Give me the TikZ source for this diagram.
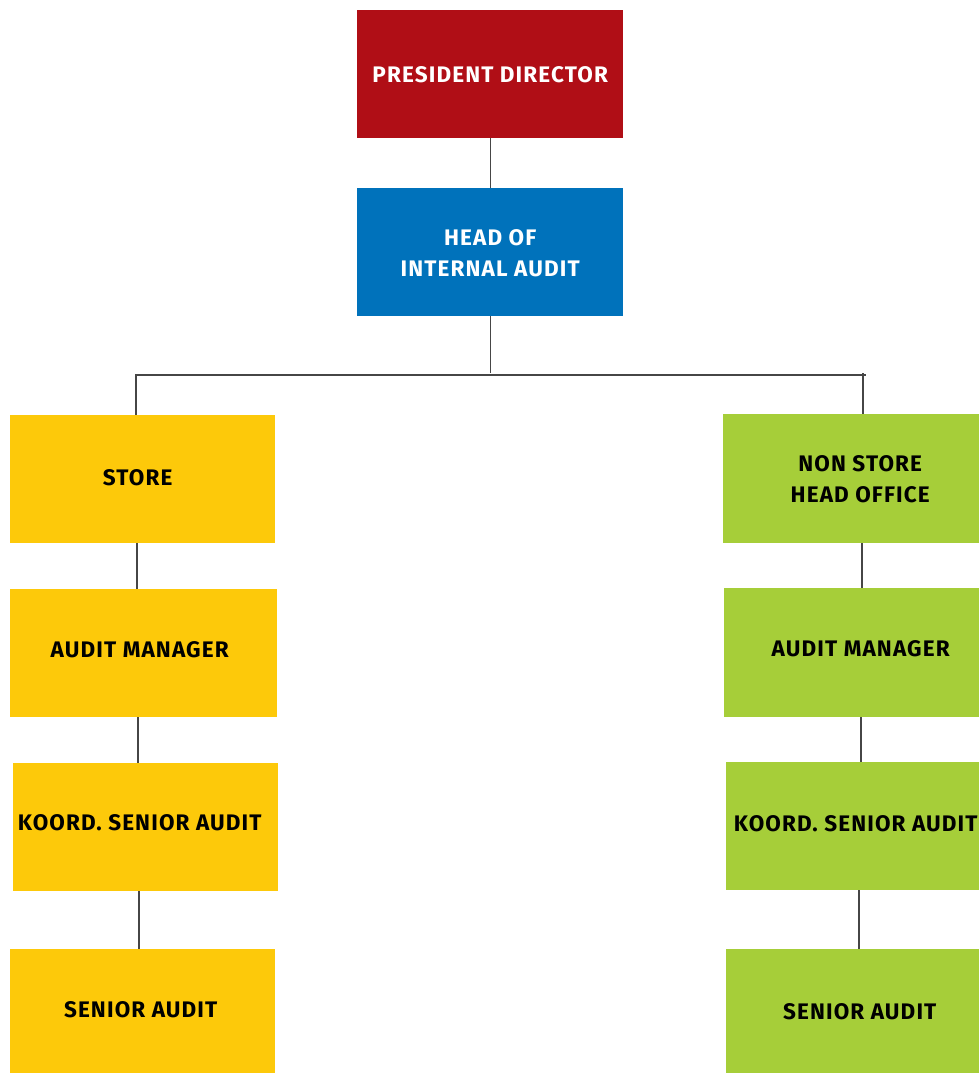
\documentclass[tikz,border=0pt]{standalone}
\usepackage{fontspec}
\setmainfont{Fira Sans}[LetterSpace=5]
\definecolor{pdred}{RGB}{176,14,22}
\definecolor{iablue}{RGB}{0,114,187}
\definecolor{styellow}{RGB}{253,201,10}
\definecolor{nsgreen}{RGB}{166,206,57}
\definecolor{linegray}{RGB}{70,70,70}
\begin{document}
\begin{tikzpicture}[x=1pt,y=-1pt,
  box/.style={rectangle, draw=none, inner sep=0pt, anchor=north west},
  txt/.style={font=\bfseries\fontsize{22.5}{31}\selectfont, align=center},
  wtxt/.style={txt, text=white},
  btxt/.style={txt, text=black},
  conn/.style={draw=linegray, line width=1.3pt}]
\useasboundingbox (0,0) rectangle (979,1073);
% top
\node[box, fill=pdred, minimum width=266pt, minimum height=128pt,
  label={[wtxt, yshift=-1pt]center:PRESIDENT DIRECTOR}] (pd) at (357,10) {};
\node[box, fill=iablue, minimum width=266pt, minimum height=128pt,
  label={[wtxt, yshift=-1pt]center:HEAD OF\\INTERNAL AUDIT}] (hia) at (357,188) {};
% left column
\node[box, fill=styellow, minimum width=265pt, minimum height=128pt,
  label={[btxt, xshift=-5pt, yshift=2pt]center:STORE}] (st) at (10,415) {};
\node[box, fill=styellow, minimum width=267pt, minimum height=128pt,
  label={[btxt, xshift=-4pt, yshift=4pt]center:AUDIT MANAGER}] (lam) at (10,589) {};
\node[box, fill=styellow, minimum width=265pt, minimum height=128pt,
  label={[btxt, xshift=-6pt, yshift=5pt]center:KOORD. SENIOR AUDIT}] (lks) at (13,763) {};
\node[box, fill=styellow, minimum width=265pt, minimum height=124pt,
  label={[btxt, xshift=-2pt, yshift=2pt]center:SENIOR AUDIT}] (lsa) at (10,949) {};
% right column
\node[box, fill=nsgreen, minimum width=256pt, minimum height=129pt,
  label={[btxt, xshift=9pt, yshift=0pt]center:NON STORE\\HEAD OFFICE}] (ns) at (723,414) {};
\node[box, fill=nsgreen, minimum width=255pt, minimum height=129pt,
  label={[btxt, xshift=9pt, yshift=4pt]center:AUDIT MANAGER}] (ram) at (724,588) {};
\node[box, fill=nsgreen, minimum width=253pt, minimum height=128pt,
  label={[btxt, xshift=3pt, yshift=3pt]center:KOORD. SENIOR AUDIT}] (rks) at (726,762) {};
\node[box, fill=nsgreen, minimum width=253pt, minimum height=124pt,
  label={[btxt, xshift=7pt, yshift=0pt]center:SENIOR AUDIT}] (rsa) at (726,949) {};
% connectors
\coordinate (hl) at (136,375);
\coordinate (hr) at (866,375);
\coordinate (hm) at (490,373);
\draw[conn] (pd.south) -- (hia.north);
\draw[conn] (hia.south) -- (hia.south |- hm);
\draw[conn] (hl) -- (hr);
\draw[conn] (136,374) -- (136,415);
\draw[conn] (863,373) -- (863,414);
\draw[conn] (137,543) -- (137,589);
\draw[conn] (138,717) -- (138,763);
\draw[conn] (139,891) -- (139,949);
\draw[conn] (862,543) -- (862,588);
\draw[conn] (861,717) -- (861,762);
\draw[conn] (859,890) -- (859,949);
\end{tikzpicture}
\end{document}
